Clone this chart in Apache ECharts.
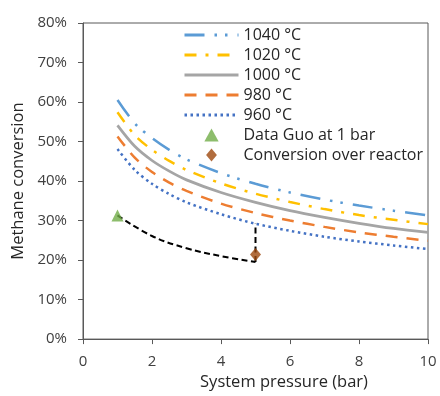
<!DOCTYPE html>
<html>
<head>
<meta charset="utf-8">
<script src="https://cdn.jsdelivr.net/npm/echarts@6/dist/echarts.min.js"></script>
<style>
  html, body { margin: 0; padding: 0; background: #fff; }
  #chart { width: 440px; height: 396px; }
</style>
</head>
<body>
<div id="chart"></div>
<script>
// pressure (bar)
const pressure = [1, 1.5, 2, 2.5, 3, 4, 5, 6, 7, 8, 9, 10]
// methane conversion (%) per temperature
const conv1040 = [60.5, 54.6, 50.9, 47.9, 45.5, 42.0, 39.3, 37.1, 35.3, 33.8, 32.5, 31.3]
const conv1020 = [57.4, 51.6, 47.9, 45.1, 42.8, 39.4, 36.8, 34.7, 32.9, 31.4, 30.2, 29.1]
const conv1000 = [54.1, 48.8, 45.2, 42.5, 40.3, 37.1, 34.6, 32.5, 30.8, 29.3, 28.0, 27.0]
const conv980 = [51.3, 45.9, 42.3, 39.6, 37.5, 34.3, 31.9, 30.0, 28.4, 27.0, 25.9, 24.9]
const conv960 = [48.1, 42.8, 39.3, 36.7, 34.6, 31.6, 29.2, 27.4, 25.9, 24.7, 23.7, 22.8]
// measured points
const guoData = [[1, 31.3]]
const reactorData = [[5, 21.4]]
// black dashed guide: curve from Guo point, then vertical at 5 bar
const guideX = [1, 2, 3, 4, 5]
const guideY = [31.3, 26.1, 23.0, 21.0, 19.5]
const guideVertical = [[5, 19.5], [5, 29.2]]
const xTicks = { min: 0, max: 10, interval: 2 }
const yTicks = { min: 0, max: 80, interval: 10 }

const pair = (xs, ys) => xs.map((x, i) => [x, ys[i]])
const font = 'Open Sans'
const txt = '#404040'

const curve = (name, ys, color, type, width) => ({
  name: name,
  type: 'line',
  data: pair(pressure, ys),
  smooth: 0.3,
  symbol: 'none',
  lineStyle: { color: color, width: width, type: type, cap: 'butt' },
  itemStyle: { color: color },
  z: 2
})

// legend entries for lines: hide the marker, keep the line
const lineItem = (name) => ({ name: name, itemStyle: { opacity: 0 } })

const option = {
  animation: false,
  textStyle: { fontFamily: font },
  grid: {
    left: 83, right: 12, top: 23, bottom: 53,
    show: true, borderColor: '#595959', borderWidth: 1
  },
  legend: {
    orient: 'vertical',
    left: 178, top: 22,
    itemWidth: 54, itemHeight: 13, itemGap: 4,
    lineStyle: { width: 3 },
    textStyle: { fontFamily: font, fontSize: 16, lineHeight: 16, color: '#262626' },
    data: [
      lineItem('1040 °C'),
      lineItem('1020 °C'),
      lineItem('1000 °C'),
      lineItem('980 °C'),
      lineItem('960 °C'),
      { name: 'Data Guo at 1 bar', icon: 'path://M0,10L5.5,0L11,10Z' },
      { name: 'Conversion over reactor', icon: 'path://M5,0L10,6L5,12L0,6Z' }
    ]
  },
  xAxis: {
    type: 'value',
    min: xTicks.min, max: xTicks.max, interval: xTicks.interval,
    name: 'System pressure (bar)',
    nameLocation: 'middle',
    nameGap: 33,
    nameTextStyle: { fontFamily: font, fontSize: 16.5, color: '#262626', padding: [0, 0, 0, 57] },
    axisLine: { lineStyle: { color: '#595959' } },
    axisTick: { inside: false, length: 5, lineStyle: { color: '#595959' } },
    axisLabel: { fontFamily: font, fontSize: 15, color: txt, margin: 15 },
    splitLine: { show: false }
  },
  yAxis: {
    type: 'value',
    min: yTicks.min, max: yTicks.max, interval: yTicks.interval,
    name: 'Methane conversion',
    nameLocation: 'middle',
    nameGap: 56,
    nameTextStyle: { fontFamily: font, fontSize: 16.5, color: '#262626' },
    axisLine: { show: true, lineStyle: { color: '#595959' } },
    axisTick: { show: true, inside: false, length: 5, lineStyle: { color: '#595959' } },
    axisLabel: { fontFamily: font, fontSize: 15, color: txt, margin: 16, formatter: '{value}%' },
    splitLine: { show: false }
  },
  series: [
    curve('1040 °C', conv1040, '#5B9BD5', [20, 10, 2.5, 8, 2.5, 10], 2.5),
    curve('1020 °C', conv1020, '#FFC000', [12, 9, 3, 9], 2.5),
    curve('1000 °C', conv1000, '#A5A5A5', 'solid', 2.75),
    curve('980 °C', conv980, '#ED7D31', [12, 9], 2.5),
    curve('960 °C', conv960, '#4472C4', [2.5, 3.5], 2.5),
    {
      name: 'guide',
      type: 'line',
      data: pair(guideX, guideY),
      smooth: 0.4,
      symbol: 'none',
      lineStyle: { color: '#000', width: 2, type: [6, 3.5] },
      z: 3
    },
    {
      name: 'guideV',
      type: 'line',
      data: guideVertical,
      symbol: 'none',
      lineStyle: { color: '#000', width: 2, type: [6, 3.5] },
      z: 3
    },
    {
      name: 'Data Guo at 1 bar',
      type: 'scatter',
      data: guoData,
      symbol: 'triangle',
      symbolSize: 12,
      itemStyle: { color: '#70AD47' },
      z: 4
    },
    {
      name: 'Conversion over reactor',
      type: 'scatter',
      data: reactorData,
      symbol: 'diamond',
      symbolSize: [11, 13],
      itemStyle: { color: '#9E480E' },
      z: 4
    }
  ]
}

const chart = echarts.init(document.getElementById('chart'))
chart.setOption(option)
window.addEventListener('resize', function () {
  chart.resize()
})
</script>
</body>
</html>
